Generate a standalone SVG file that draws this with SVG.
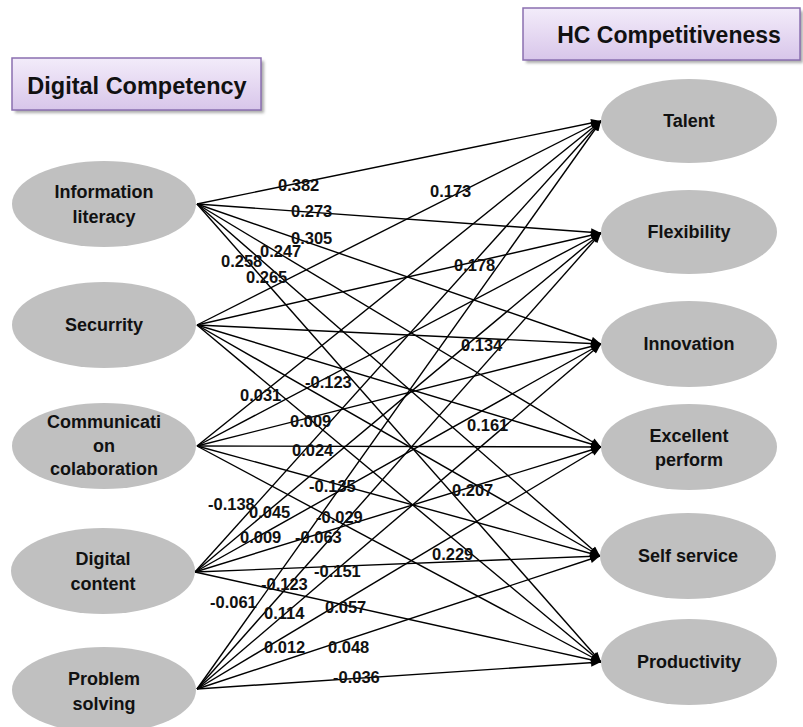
<svg xmlns="http://www.w3.org/2000/svg" width="803" height="727" viewBox="0 0 803 727">
  <style>
    .node ellipse { fill: #c0c0c0; }
    .node text { font-family: "Liberation Sans", Arial, sans-serif; font-weight: bold; font-size: 18px; fill: #111; text-anchor: middle; }
    .title rect.box { fill: url(#titleFill); stroke: #8a6fb0; stroke-width: 1.5; }
    .title rect.shade { fill: #888; filter: url(#soft); opacity: 0.7; }
    .title text { font-family: "Liberation Sans", Arial, sans-serif; font-weight: bold; fill: #111; text-anchor: middle; }
    #connectors line { stroke: #000; stroke-width: 1.4; marker-end: url(#arrow); }
    #weights text { font-family: "Liberation Sans", Arial, sans-serif; font-weight: bold; font-size: 16.5px; fill: #111; }
  </style>
  <defs>
    <linearGradient id="titleFill" x1="0" y1="0" x2="0" y2="1">
      <stop offset="0" stop-color="#f3ecfa"/>
      <stop offset="1" stop-color="#d8c6ea"/>
    </linearGradient>
    <filter id="soft" x="-10%" y="-30%" width="120%" height="160%">
      <feGaussianBlur stdDeviation="1.5"/>
    </filter>
    <marker id="arrow" viewBox="0 0 10 8" refX="10" refY="4" markerWidth="11" markerHeight="8" markerUnits="userSpaceOnUse" orient="auto">
      <path d="M0,0 L10,4 L0,8 Z" fill="#000"/>
    </marker>
  </defs>

  <rect width="803" height="727" fill="#fff"/>

  <!-- group headings -->
  <g id="title-digital" class="title">
    <rect class="shade" x="15" y="61" width="249" height="52"/>
    <rect class="box" x="12" y="58" width="249" height="52"/>
    <text x="137" y="94" font-size="23.5">Digital Competency</text>
  </g>
  <g id="title-hc" class="title">
    <rect class="shade" x="526" y="11" width="277" height="52"/>
    <rect class="box" x="523" y="8" width="277" height="52"/>
    <text x="669" y="43" font-size="23">HC Competitiveness</text>
  </g>

  <!-- paths from each competency to each outcome -->
  <g id="connectors">
    <line x1="197" y1="204" x2="601" y2="121"/>
    <line x1="197" y1="204" x2="601" y2="233"/>
    <line x1="197" y1="204" x2="601" y2="344"/>
    <line x1="197" y1="204" x2="601" y2="447"/>
    <line x1="197" y1="204" x2="600" y2="556"/>
    <line x1="197" y1="204" x2="601" y2="662"/>

    <line x1="197" y1="325" x2="601" y2="121"/>
    <line x1="197" y1="325" x2="601" y2="233"/>
    <line x1="197" y1="325" x2="601" y2="344"/>
    <line x1="197" y1="325" x2="601" y2="447"/>
    <line x1="197" y1="325" x2="600" y2="556"/>
    <line x1="197" y1="325" x2="601" y2="662"/>

    <line x1="197" y1="446" x2="601" y2="121"/>
    <line x1="197" y1="446" x2="601" y2="233"/>
    <line x1="197" y1="446" x2="601" y2="344"/>
    <line x1="197" y1="446" x2="601" y2="447"/>
    <line x1="197" y1="446" x2="600" y2="556"/>
    <line x1="197" y1="446" x2="601" y2="662"/>

    <line x1="195" y1="572" x2="601" y2="121"/>
    <line x1="195" y1="572" x2="601" y2="233"/>
    <line x1="195" y1="572" x2="601" y2="344"/>
    <line x1="195" y1="572" x2="601" y2="447"/>
    <line x1="195" y1="572" x2="600" y2="556"/>
    <line x1="195" y1="572" x2="601" y2="662"/>

    <line x1="197" y1="689" x2="601" y2="121"/>
    <line x1="197" y1="689" x2="601" y2="233"/>
    <line x1="197" y1="689" x2="601" y2="344"/>
    <line x1="197" y1="689" x2="601" y2="447"/>
    <line x1="197" y1="689" x2="600" y2="556"/>
    <line x1="197" y1="689" x2="601" y2="662"/>
  </g>

  <!-- path coefficients -->
  <g id="weights">
    <text x="278" y="191">0.382</text>
    <text x="430" y="197">0.173</text>
    <text x="291" y="217">0.273</text>
    <text x="291" y="244">0.305</text>
    <text x="260" y="257">0.247</text>
    <text x="221" y="267">0.258</text>
    <text x="454" y="271">0.178</text>
    <text x="246" y="283">0.265</text>
    <text x="461" y="351">0.134</text>
    <text x="305" y="388">-0.123</text>
    <text x="240" y="401">0.031</text>
    <text x="290" y="427">0.009</text>
    <text x="467" y="431">0.161</text>
    <text x="292" y="456">0.024</text>
    <text x="309" y="492">-0.135</text>
    <text x="452" y="496">0.207</text>
    <text x="208" y="510">-0.138</text>
    <text x="249" y="518">0.045</text>
    <text x="316" y="523">-0.029</text>
    <text x="240" y="543">0.009</text>
    <text x="295" y="543">-0.063</text>
    <text x="432" y="560">0.229</text>
    <text x="314" y="577">-0.151</text>
    <text x="261" y="590">-0.123</text>
    <text x="210" y="608">-0.061</text>
    <text x="325" y="613">0.057</text>
    <text x="264" y="619">0.114</text>
    <text x="264" y="653">0.012</text>
    <text x="328" y="653">0.048</text>
    <text x="333" y="683">-0.036</text>
  </g>

  <!-- digital competency dimensions -->
  <g id="information-literacy" class="node">
    <ellipse cx="104" cy="204" rx="92" ry="43"/>
    <text x="104" y="198">Information</text>
    <text x="104" y="223">literacy</text>
  </g>
  <g id="securrity" class="node">
    <ellipse cx="104" cy="325" rx="92" ry="43"/>
    <text x="104" y="331">Securrity</text>
  </g>
  <g id="communication" class="node">
    <ellipse cx="104" cy="446" rx="92" ry="43"/>
    <text x="104" y="428">Communicati</text>
    <text x="104" y="451.5">on</text>
    <text x="104" y="475">colaboration</text>
  </g>
  <g id="digital-content" class="node">
    <ellipse cx="103" cy="571" rx="92" ry="43"/>
    <text x="103" y="565">Digital</text>
    <text x="103" y="590">content</text>
  </g>
  <g id="problem-solving" class="node">
    <ellipse cx="104" cy="690" rx="92" ry="43"/>
    <text x="104" y="685">Problem</text>
    <text x="104" y="710">solving</text>
  </g>

  <!-- human capital competitiveness outcomes -->
  <g id="talent" class="node">
    <ellipse cx="689" cy="121" rx="88" ry="42"/>
    <text x="689" y="127">Talent</text>
  </g>
  <g id="flexibility" class="node">
    <ellipse cx="689" cy="232" rx="88" ry="42"/>
    <text x="689" y="238">Flexibility</text>
  </g>
  <g id="innovation" class="node">
    <ellipse cx="689" cy="344" rx="88" ry="43"/>
    <text x="689" y="350">Innovation</text>
  </g>
  <g id="excellent-perform" class="node">
    <ellipse cx="689" cy="447" rx="88" ry="43"/>
    <text x="689" y="441.5">Excellent</text>
    <text x="689" y="466">perform</text>
  </g>
  <g id="self-service" class="node">
    <ellipse cx="688" cy="556" rx="88" ry="43"/>
    <text x="688" y="562">Self service</text>
  </g>
  <g id="productivity" class="node">
    <ellipse cx="689" cy="662" rx="88" ry="43"/>
    <text x="689" y="668">Productivity</text>
  </g>
</svg>
